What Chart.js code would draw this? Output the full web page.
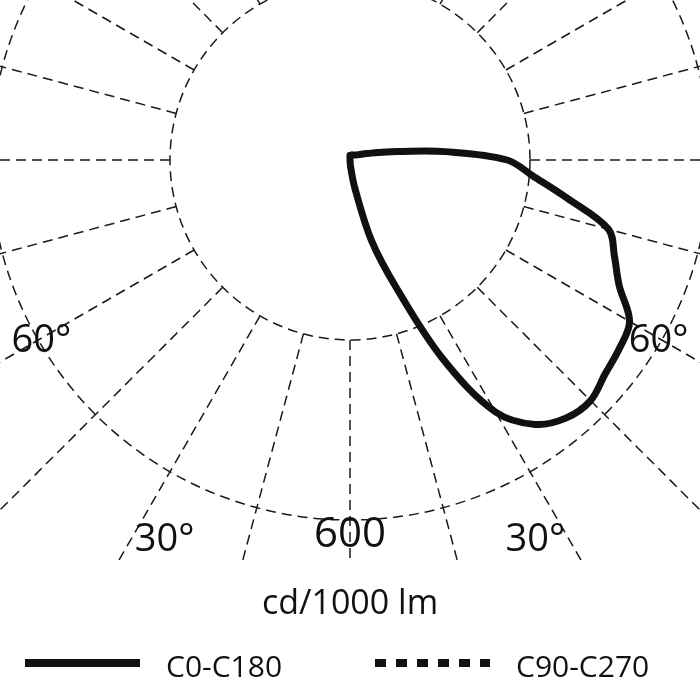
<!DOCTYPE html>
<html>
<head>
<meta charset="utf-8">
<title>Polar light distribution</title>
<script src="https://cdn.jsdelivr.net/npm/chart.js@4.4.1/dist/chart.umd.min.js"></script>
<style>
    html, body { margin: 0; padding: 0; background: #fff; }
    #wrap { width: 700px; height: 700px; }
</style>
</head>
<body>
<div id="wrap"><canvas id="polarChart" width="700" height="700"></canvas></div>
<script>
// Gamma angles from nadir, degrees
const gammaAngles = [0, 5, 10, 15, 20, 25, 30, 35, 40, 45, 50, 55, 60, 65, 70, 75, 80, 85, 90,
    95, 100, 105, 110, 115, 120, 125, 130, 135, 140, 145, 150, 155, 160, 165, 170, 175, 180];

// C0 half-plane (right side), cd/1000 lm
const c0Values = [0, 12, 50, 140, 228, 365, 485, 538, 561, 567, 555, 548, 538, 495, 469, 446, 368, 306, 262,
    160, 82, 48, 32, 24, 18, 15, 13, 12, 11, 10, 10, 9, 9, 9, 8, 8, 8];

// C180 half-plane (left side), cd/1000 lm
const c180Values = [0, 0, 0, 0, 0, 0, 0, 0, 0, 0, 0, 0, 0, 0, 0, 0, 0, 0, 0,
    0, 0, 0, 0, 0, 0, 0, 0, 0, 0, 0, 0, 0, 0, 0, 0, 0, 0];

// C90-C270 plane — no curve visible on the diagram
const c90c270Values = [];

// Grid: rings (cd/1000 lm) and spokes (degrees)
const ringValues = [300, 600];
const ringLabelValues = [600];
const spokeAngles = [0, 15, 30, 45, 60, 75, 90, 105, 120, 135, 150, 165, 180];
const angleLabelValues = [30, 60];
const unitLabel = "cd/1000 lm";

// Layout
const PX_PER_UNIT = 0.6;
const CENTER_X = 350;
const CENTER_Y = 160;
const GRID_BOTTOM = 560;
const FONT = '"Open Sans", "Noto Sans", sans-serif';

function toPoints(angles, values, side) {
    return angles.map(function (g, i) {
        let rad = g * Math.PI / 180;
        return { x: side * values[i] * Math.sin(rad), y: -values[i] * Math.cos(rad) };
    });
}

// 🎯 polar grid + labels drawn through the chart's own x/y scales
const polarGrid = {
    id: "polarGrid",
    beforeDatasetsDraw(chart) {
        let ctx = chart.ctx;
        let xs = chart.scales.x, ys = chart.scales.y;
        let cx = xs.getPixelForValue(0), cy = ys.getPixelForValue(0);
        let pos = function (r, deg) {
            let rad = deg * Math.PI / 180;
            return [xs.getPixelForValue(r * Math.sin(rad)), ys.getPixelForValue(-r * Math.cos(rad))];
        };

        ctx.save();
        ctx.beginPath();
        ctx.rect(0, 0, chart.width, GRID_BOTTOM);
        ctx.clip();
        ctx.setLineDash([10, 6]);
        ctx.lineWidth = 1.5;
        ctx.strokeStyle = "#1a1a1a";

        ringValues.forEach(function (v) {
            let rp = xs.getPixelForValue(v) - cx;
            ctx.beginPath();
            ctx.arc(cx, cy, rp, 0, Math.PI * 2);
            ctx.stroke();
        });

        let inner = ringValues[0];
        [1, -1].forEach(function (side) {
            spokeAngles.forEach(function (deg) {
                if (side < 0 && (deg === 0 || deg === 180)) return;
                let a = pos(inner, side * deg);
                let b = pos(inner * 6, side * deg);
                ctx.beginPath();
                ctx.moveTo(a[0], a[1]);
                ctx.lineTo(b[0], b[1]);
                ctx.stroke();
            });
        });
        ctx.restore();
    },
    afterDatasetsDraw(chart) {
        let ctx = chart.ctx;
        let xs = chart.scales.x, ys = chart.scales.y;
        let pos = function (r, deg) {
            let rad = deg * Math.PI / 180;
            return [xs.getPixelForValue(r * Math.sin(rad)), ys.getPixelForValue(-r * Math.cos(rad))];
        };

        ctx.save();
        ctx.fillStyle = "#111";
        ctx.textAlign = "center";
        ctx.textBaseline = "alphabetic";

        // ring value label under the ring
        ctx.font = "42px " + FONT;
        ringLabelValues.forEach(function (v) {
            let p = pos(v, 0);
            ctx.fillText(String(v), p[0], p[1] + 27);
        });

        // angle labels on both sides
        ctx.font = "38px " + FONT;
        angleLabelValues.forEach(function (deg) {
            let r = deg === 60 ? 594 : 700;
            let a = deg === 60 ? 60 : 26.2;
            [1, -1].forEach(function (side) {
                let p = pos(r, side * a);
                ctx.fillText(deg + "°", p[0], p[1] + 14);
            });
        });

        // unit
        ctx.font = "34px " + FONT;
        ctx.fillText(unitLabel, CENTER_X, 614);
        ctx.restore();
    }
};

// 📋 legend with long line samples
const LEGEND_X = [25, 375];
const LEGEND_Y = 663;
const LEGEND_LINE = 115;

const lineLegend = {
    id: "lineLegend",
    afterDraw(chart) {
        let ctx = chart.ctx;
        ctx.save();
        chart.data.datasets.forEach(function (ds, i) {
            let x0 = LEGEND_X[i];
            ctx.beginPath();
            ctx.setLineDash(ds.borderDash || []);
            ctx.lineWidth = 8;
            ctx.strokeStyle = ds.borderColor;
            ctx.moveTo(x0, LEGEND_Y);
            ctx.lineTo(x0 + LEGEND_LINE, LEGEND_Y);
            ctx.stroke();

            ctx.setLineDash([]);
            ctx.fillStyle = "#111";
            ctx.font = "30px " + FONT;
            ctx.textAlign = "left";
            ctx.textBaseline = "alphabetic";
            ctx.fillText(ds.label, x0 + LEGEND_LINE + 26, LEGEND_Y + 14);
        });
        ctx.restore();
    }
};

let c0c180Points = toPoints(gammaAngles, c0Values, 1)
    .concat(toPoints(gammaAngles, c180Values, -1).reverse());
let c90c270Points = toPoints(gammaAngles.slice(0, c90c270Values.length), c90c270Values, 1);

let polarCtx = document.getElementById("polarChart").getContext("2d");
let polarChart = new Chart(polarCtx, {
    type: "scatter",
    data: {
        datasets: [{
            label: "C0-C180",
            data: c0c180Points,
            showLine: true,
            borderColor: "#111",
            borderWidth: 7,
            borderJoinStyle: "round",
            borderCapStyle: "round",
            tension: 0.35,
            pointRadius: 0,
            fill: false
        }, {
            label: "C90-C270",
            data: c90c270Points,
            showLine: true,
            borderColor: "#111",
            borderWidth: 7,
            borderDash: [11, 10],
            tension: 0.35,
            pointRadius: 0,
            fill: false
        }]
    },
    options: {
        responsive: false,
        animation: false,
        layout: { padding: 0, autoPadding: false },
        plugins: {
            legend: { display: false },
            tooltip: { enabled: false }
        },
        scales: {
            x: {
                type: "linear",
                display: false,
                bounds: "data",
                min: -CENTER_X / PX_PER_UNIT,
                max: (700 - CENTER_X) / PX_PER_UNIT
            },
            y: {
                type: "linear",
                display: false,
                bounds: "data",
                min: -(700 - CENTER_Y) / PX_PER_UNIT,
                max: CENTER_Y / PX_PER_UNIT
            }
        }
    },
    plugins: [polarGrid, lineLegend]
});
</script>
</body>
</html>
